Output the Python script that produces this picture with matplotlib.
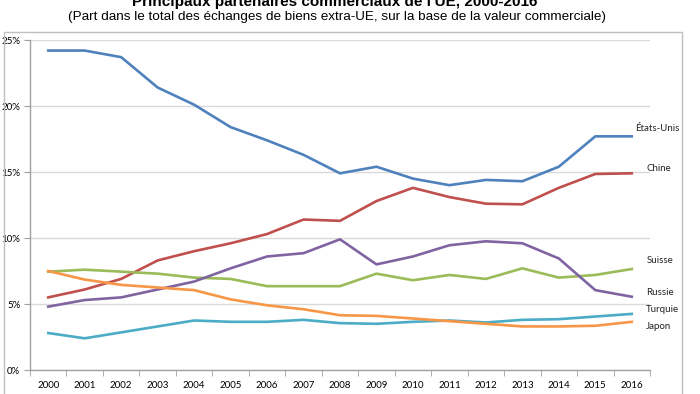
import matplotlib
matplotlib.use("Agg")
import matplotlib.pyplot as plt
from matplotlib.patches import Rectangle
import numpy as np

years = list(range(2000, 2017))
etats_unis = [24.2, 24.2, 23.7, 21.4, 20.1, 18.4, 17.4, 16.3, 14.9, 15.4, 14.5, 14.0, 14.4, 14.3, 15.4, 17.7, 17.7]
chine = [5.5, 6.1, 6.9, 8.3, 9.0, 9.6, 10.3, 11.4, 11.3, 12.8, 13.8, 13.1, 12.6, 12.55, 13.8, 14.85, 14.9]
russie = [4.8, 5.3, 5.5, 6.1, 6.7, 7.7, 8.6, 8.85, 9.9, 8.0, 8.6, 9.45, 9.75, 9.6, 8.45, 6.05, 5.55]
suisse = [7.45, 7.6, 7.45, 7.3, 7.0, 6.9, 6.35, 6.35, 6.35, 7.3, 6.8, 7.2, 6.9, 7.7, 7.0, 7.2, 7.65]
japon = [7.5, 6.85, 6.45, 6.25, 6.05, 5.35, 4.9, 4.6, 4.15, 4.1, 3.9, 3.7, 3.5, 3.3, 3.3, 3.35, 3.65]
turquie = [2.8, 2.4, 2.85, 3.3, 3.75, 3.65, 3.65, 3.8, 3.55, 3.5, 3.65, 3.75, 3.6, 3.8, 3.85, 4.05, 4.25]

series = [
    ("États-Unis", etats_unis, "#4F81BD"),
    ("Chine", chine, "#C0504D"),
    ("Suisse", suisse, "#9BBB59"),
    ("Russie", russie, "#8064A2"),
    ("Turquie", turquie, "#4BACC6"),
    ("Japon", japon, "#F79646"),
]
# label positions (data y) for the right-hand annotations
label_y = {"États-Unis": 18.3, "Chine": 15.3, "Suisse": 8.3, "Russie": 5.9, "Turquie": 4.55, "Japon": 3.3}
label_dx = {"États-Unis": 0.1, "Chine": 0.4, "Suisse": 0.4, "Russie": 0.4, "Turquie": 0.4, "Japon": 0.4}

W, H = 700, 394
fig = plt.figure(figsize=(W / 100, H / 100), dpi=100)
fig.patch.set_facecolor("white")

# outer frame
fig.patches.append(Rectangle((4 / W, -0.05), (682 - 4) / W, (H - 32) / H + 0.05,
                             transform=fig.transFigure, fill=False,
                             edgecolor="#BFBFBF", linewidth=1.0))

ax = fig.add_axes([30 / W, (H - 370) / H, (650 - 30) / W, (370 - 40) / H])
x = np.arange(len(years))
for name, vals, col in series:
    ax.plot(x, vals, color=col, linewidth=1.9, solid_joinstyle="round")
    ax.text(len(years) - 1 + label_dx[name], label_y[name], name, fontsize=7,
            family="Lato", color="#222222", va="center", ha="left", clip_on=False)

ax.set_xlim(-0.5, len(years) - 0.5)
ax.set_ylim(0, 25)
ax.set_yticks([0, 5, 10, 15, 20, 25])
ax.set_yticklabels(["0%", "5%", "10%", "15%", "20%", "25%"], fontsize=7, family="Lato")
ax.set_xticks(x)
ax.set_xticklabels([str(y) for y in years], fontsize=7, family="Lato")
ax.set_xticks(np.arange(-0.5, len(years)), minor=True)
ax.tick_params(axis="x", which="major", length=0, pad=8)
ax.tick_params(axis="x", which="minor", length=4, color="#A0A0A0", direction="out")
ax.tick_params(axis="y", length=4, color="#A0A0A0", pad=3)
ax.grid(axis="y", color="#D9D9D9", linewidth=1.0)
ax.set_axisbelow(True)
for s in ["top", "right"]:
    ax.spines[s].set_visible(False)
for s in ["left", "bottom"]:
    ax.spines[s].set_color("#A0A0A0")
    ax.spines[s].set_linewidth(1.0)

fig.text(335 / W, 1 - 2 / H, "Principaux partenaires commerciaux de l'UE, 2000-2016",
         ha="center", va="center", fontsize=11, fontweight="bold", family="Liberation Sans")
fig.text(337 / W, 1 - 17 / H,
         "(Part dans le total des échanges de biens extra-UE, sur la base de la valeur commerciale)",
         ha="center", va="center", fontsize=9.7, family="Liberation Sans")

fig.savefig("out.png", dpi=100)
